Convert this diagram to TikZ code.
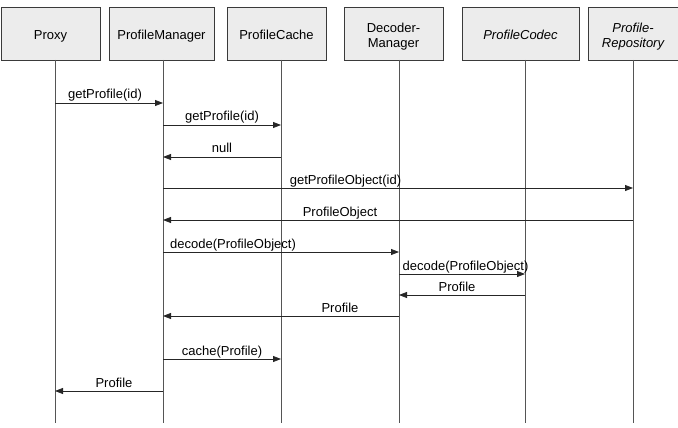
\documentclass[tikz,border=0pt]{standalone}
\usepackage{fontspec}
\setmainfont{Liberation Sans}
\usepackage{xcolor}
\usepackage{tikz}
\usetikzlibrary{arrows.meta}
\definecolor{boxfill}{HTML}{ECECEC}
\definecolor{boxline}{HTML}{3A3A3A}
\definecolor{lifeg}{HTML}{555555}
\newcommand{\seqfont}{\fontsize{13}{15}\selectfont}

\begin{document}
\begin{tikzpicture}[x=1pt,y=-1pt,font=\seqfont,
  actor/.style={draw=boxline, fill=boxfill, line width=0.8pt, minimum height=53pt, inner sep=0pt,
    align=center, text height=14.6pt, text depth=3pt},
  actor2/.style={actor, text height=32pt},
  life/.style={draw=lifeg, line width=0.9pt},
  msg/.style={draw=black!85, line width=0.8pt, -{Triangle[length=8pt,width=6pt]}},
  lbl/.style={anchor=base, inner sep=0pt}]
\useasboundingbox (0,0) rectangle (678,428);
% participants
\node[actor, minimum width=99pt] (proxy) at (50.5,33.5) {Proxy};
\node[actor, minimum width=105pt] (mgr) at (161.5,33.5) {ProfileManager};
\node[actor, minimum width=99pt] (cache) at (276.5,33.5) {ProfileCache};
\node[actor2, minimum width=99pt] (dec) at (393.5,33.5) {Decoder-\\Manager};
\node[actor, minimum width=117pt, font=\seqfont\itshape] (codec) at (520.5,33.5) {ProfileCodec};
\node[actor2, minimum width=90pt, font=\seqfont\itshape] (repo) at (633,33.5) {Profile-\\Repository};
% lifelines
\coordinate (proxy-l) at (55,60);
\coordinate (mgr-l) at (163,60);
\coordinate (cache-l) at (281,60);
\coordinate (dec-l) at (399,60);
\coordinate (codec-l) at (525,60);
\coordinate (repo-l) at (633,60);
\draw[life] (proxy-l) -- (proxy-l |- 0,423);
\draw[life] (mgr-l) -- (mgr-l |- 0,423);
\draw[life] (cache-l) -- (cache-l |- 0,423);
\draw[life] (dec-l) -- (dec-l |- 0,423);
\draw[life] (codec-l) -- (codec-l |- 0,423);
\draw[life] (repo-l) -- (repo-l |- 0,423);
% messages
\draw[msg] (proxy-l |- 0,103) -- (mgr-l |- 0,103);
\node[lbl] at (105,99) {getProfile(id)};
\draw[msg] (mgr-l |- 0,125) -- (cache-l |- 0,125);
\node[lbl] at (222,121) {getProfile(id)};
\draw[msg] (cache-l |- 0,157) -- (mgr-l |- 0,157);
\node[lbl] at (222,153) {null};
\draw[msg] (mgr-l |- 0,188) -- (repo-l |- 0,188);
\node[lbl] at (345.5,184) {getProfileObject(id)};
\draw[msg] (repo-l |- 0,220) -- (mgr-l |- 0,220);
\node[lbl] at (340,216) {ProfileObject};
\draw[msg] (mgr-l |- 0,252) -- (dec-l |- 0,252);
\node[lbl] at (233,248) {decode(ProfileObject)};
\draw[msg] (dec-l |- 0,274) -- (codec-l |- 0,274);
\node[lbl] at (465.5,270) {decode(ProfileObject)};
\draw[msg] (codec-l |- 0,295) -- (dec-l |- 0,295);
\node[lbl] at (457,291) {Profile};
\draw[msg] (dec-l |- 0,316) -- (mgr-l |- 0,316);
\node[lbl] at (340,312) {Profile};
\draw[msg] (mgr-l |- 0,359) -- (cache-l |- 0,359);
\node[lbl] at (222,355) {cache(Profile)};
\draw[msg] (mgr-l |- 0,391) -- (proxy-l |- 0,391);
\node[lbl] at (114,387) {Profile};
\end{tikzpicture}
\end{document}
